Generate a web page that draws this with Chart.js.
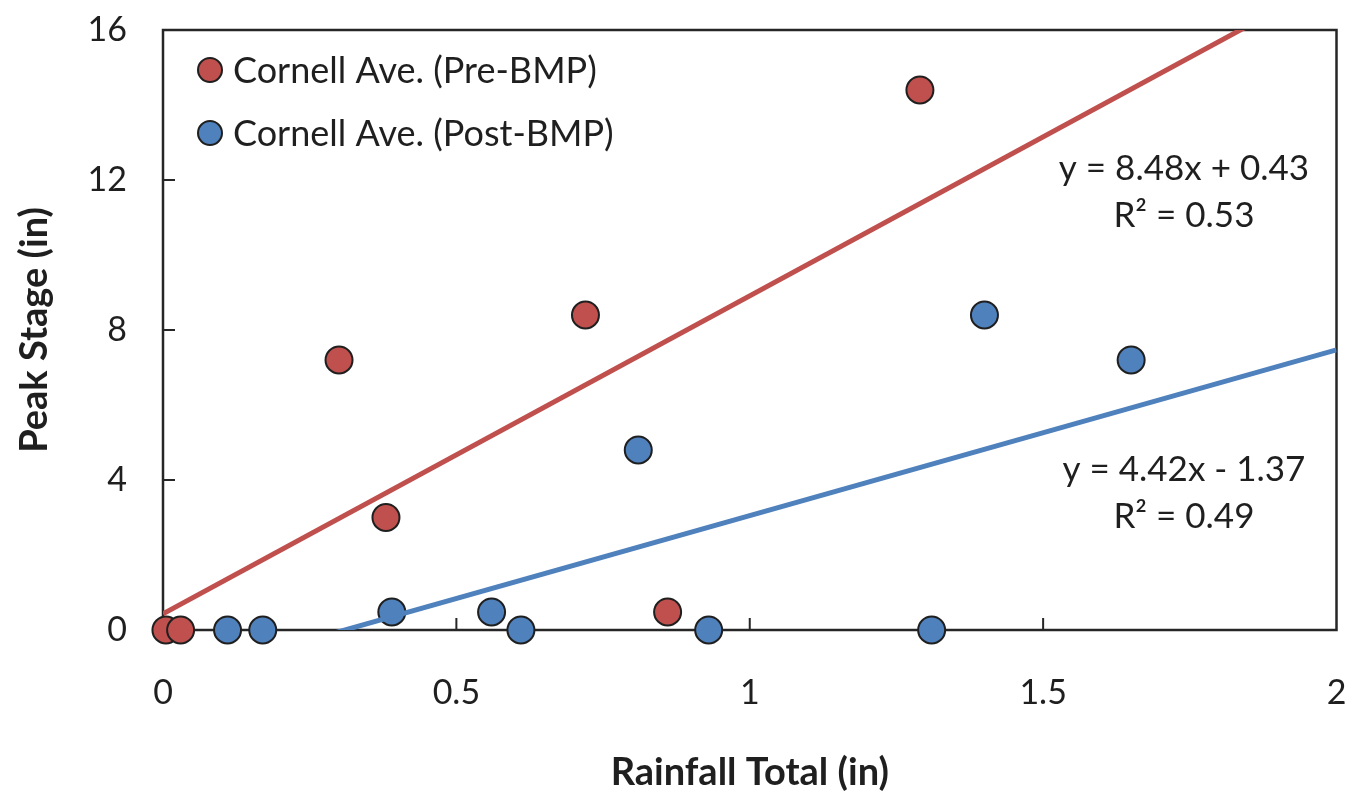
<!DOCTYPE html>
<html>
<head>
<meta charset="utf-8">
<script src="https://cdn.jsdelivr.net/npm/chart.js@4.4.0/dist/chart.umd.min.js"></script>
<style>
  html, body { margin: 0; padding: 0; background: #fff; }
  #wrap { width: 1352px; height: 796px; }
</style>
</head>
<body>
<div id="wrap"><canvas id="peakChart" width="1352" height="796"></canvas></div>
<script>
// rainfall total (in) vs peak stage (in)
const preX  = [0.005, 0.03, 0.30, 0.38, 0.72, 0.86, 1.29];
const preY  = [0, 0, 7.2, 3.0, 8.4, 0.48, 14.4];
const postX = [0.11, 0.17, 0.39, 0.56, 0.61, 0.81, 0.93, 1.31, 1.40, 1.65];
const postY = [0, 0, 0.48, 0.48, 0, 4.8, 0, 0, 8.4, 7.2];

// trendline coefficients as printed on the chart
const preFit  = { slope: 8.48, intercept: 0.43, r2: 0.53 };
const postFit = { slope: 4.42, intercept: -1.37, r2: 0.49 };

const xTicks = [0, 0.5, 1, 1.5, 2];
const yTicks = [0, 4, 8, 12, 16];

const FONT = 'Lato, "Noto Sans", sans-serif';
const RED = '#C0504D';
const BLUE = '#4F81BD';
const INK = '#1f1f1f';

const toPoints = (xs, ys) => xs.map((x, i) => ({ x: x, y: ys[i] }));
const fitLine = (f) => [xTicks[0], xTicks[xTicks.length - 1]].map(x => ({ x: x, y: f.slope * x + f.intercept }));
const fmt = (v) => (v < 0 ? '- ' + Math.abs(v).toFixed(2) : '+ ' + v.toFixed(2));

// box around the plot + inward tick marks
const framePlugin = {
    id: 'frame',
    beforeDatasetsDraw(chart) {
        const { ctx, chartArea: a, scales } = chart;
        ctx.save();
        ctx.strokeStyle = '#262626';
        ctx.lineWidth = 2.5;
        ctx.strokeRect(a.left, a.top, a.right - a.left, a.bottom - a.top);
        ctx.lineWidth = 2;
        ctx.beginPath();
        yTicks.slice(1, -1).forEach(v => {
            const y = scales.y.getPixelForValue(v);
            ctx.moveTo(a.left, y);
            ctx.lineTo(a.left + 12, y);
        });
        xTicks.slice(1, -1).forEach(v => {
            const x = scales.x.getPixelForValue(v);
            ctx.moveTo(x, a.bottom);
            ctx.lineTo(x, a.bottom - 12);
        });
        ctx.stroke();
        ctx.restore();
    }
};

// legend inside plot, top-left
const innerLegend = {
    id: 'innerLegend',
    afterDraw(chart) {
        const { ctx, chartArea: a } = chart;
        ctx.save();
        ctx.font = '36px ' + FONT;
        ctx.textBaseline = 'middle';
        chart.data.datasets.filter(d => d.showInLegend).forEach((d, i) => {
            const cy = a.top + 40 + i * 63;
            const cx = a.left + 47;
            ctx.beginPath();
            ctx.arc(cx, cy, 12, 0, Math.PI * 2);
            ctx.fillStyle = d.backgroundColor;
            ctx.fill();
            ctx.lineWidth = 2;
            ctx.strokeStyle = INK;
            ctx.stroke();
            ctx.fillStyle = INK;
            ctx.fillText(d.label, cx + 23, cy + 1);
        });
        ctx.restore();
    }
};

// trendline equations
const eqLabels = {
    id: 'eqLabels',
    afterDraw(chart) {
        const { ctx, scales } = chart;
        ctx.save();
        ctx.font = '35px ' + FONT;
        ctx.fillStyle = INK;
        ctx.textAlign = 'center';
        ctx.textBaseline = 'middle';
        [[preFit, 1.74, 12.3], [postFit, 1.74, 4.27]].forEach(([f, lx, ly]) => {
            const x = scales.x.getPixelForValue(lx);
            const y = scales.y.getPixelForValue(ly);
            ctx.fillText('y = ' + f.slope.toFixed(2) + 'x ' + fmt(f.intercept), x, y);
            ctx.fillText('R² = ' + f.r2.toFixed(2), x, y + 47);
        });
        ctx.restore();
    }
};

// keep the plot box where the figure has it
const noSidePad = (s) => { s.paddingLeft = 0; s.paddingRight = 0; s.paddingTop = 0; s.paddingBottom = 0; };

new Chart(document.getElementById('peakChart').getContext('2d'), {
    type: 'scatter',
    data: {
        datasets: [
            {
                label: 'Cornell Ave. (Pre-BMP) trend',
                type: 'line',
                data: fitLine(preFit),
                borderColor: RED,
                borderWidth: 5,
                pointRadius: 0,
                fill: false,
                clip: 0,
                order: 0
            },
            {
                label: 'Cornell Ave. (Post-BMP) trend',
                type: 'line',
                data: fitLine(postFit),
                borderColor: BLUE,
                borderWidth: 5,
                pointRadius: 0,
                fill: false,
                clip: 0,
                order: 0
            },
            {
                label: 'Cornell Ave. (Pre-BMP)',
                showInLegend: true,
                data: toPoints(preX, preY),
                backgroundColor: RED,
                borderColor: INK,
                borderWidth: 2,
                pointRadius: 13.5,
                clip: false,
                order: 2
            },
            {
                label: 'Cornell Ave. (Post-BMP)',
                showInLegend: true,
                data: toPoints(postX, postY),
                backgroundColor: BLUE,
                borderColor: INK,
                borderWidth: 2,
                pointRadius: 13.5,
                clip: false,
                order: 1
            }
        ]
    },
    options: {
        responsive: false,
        animation: false,
        events: [],
        layout: { padding: { top: 30, right: 15, left: 0, bottom: 0 } },
        plugins: {
            legend: { display: false },
            tooltip: { enabled: false }
        },
        scales: {
            x: {
                type: 'linear',
                min: 0,
                max: 2,
                afterBuildTicks: (s) => { s.ticks = xTicks.map(v => ({ value: v })); },
                grid: { display: false, drawTicks: false },
                border: { display: false },
                ticks: { color: INK, font: { family: FONT, size: 34 }, padding: 43, callback: (v) => String(v) },
                title: {
                    display: true,
                    text: 'Rainfall Total (in)',
                    color: INK,
                    font: { family: FONT, size: 38, weight: 'bold' },
                    padding: { top: 0, bottom: 0 }
                },
                afterFit: (s) => { s.height = 166; noSidePad(s); }
            },
            y: {
                type: 'linear',
                min: 0,
                max: 16,
                afterBuildTicks: (s) => { s.ticks = yTicks.map(v => ({ value: v })); },
                grid: { display: false, drawTicks: false },
                border: { display: false },
                ticks: { color: INK, font: { family: FONT, size: 34 }, padding: 36 },
                title: {
                    display: true,
                    text: 'Peak Stage (in)',
                    color: INK,
                    font: { family: FONT, size: 38, weight: 'bold' },
                    padding: { top: 12, bottom: 0 }
                },
                afterFit: (s) => { s.width = 163; noSidePad(s); }
            }
        }
    },
    plugins: [framePlugin, innerLegend, eqLabels]
});
</script>
</body>
</html>
